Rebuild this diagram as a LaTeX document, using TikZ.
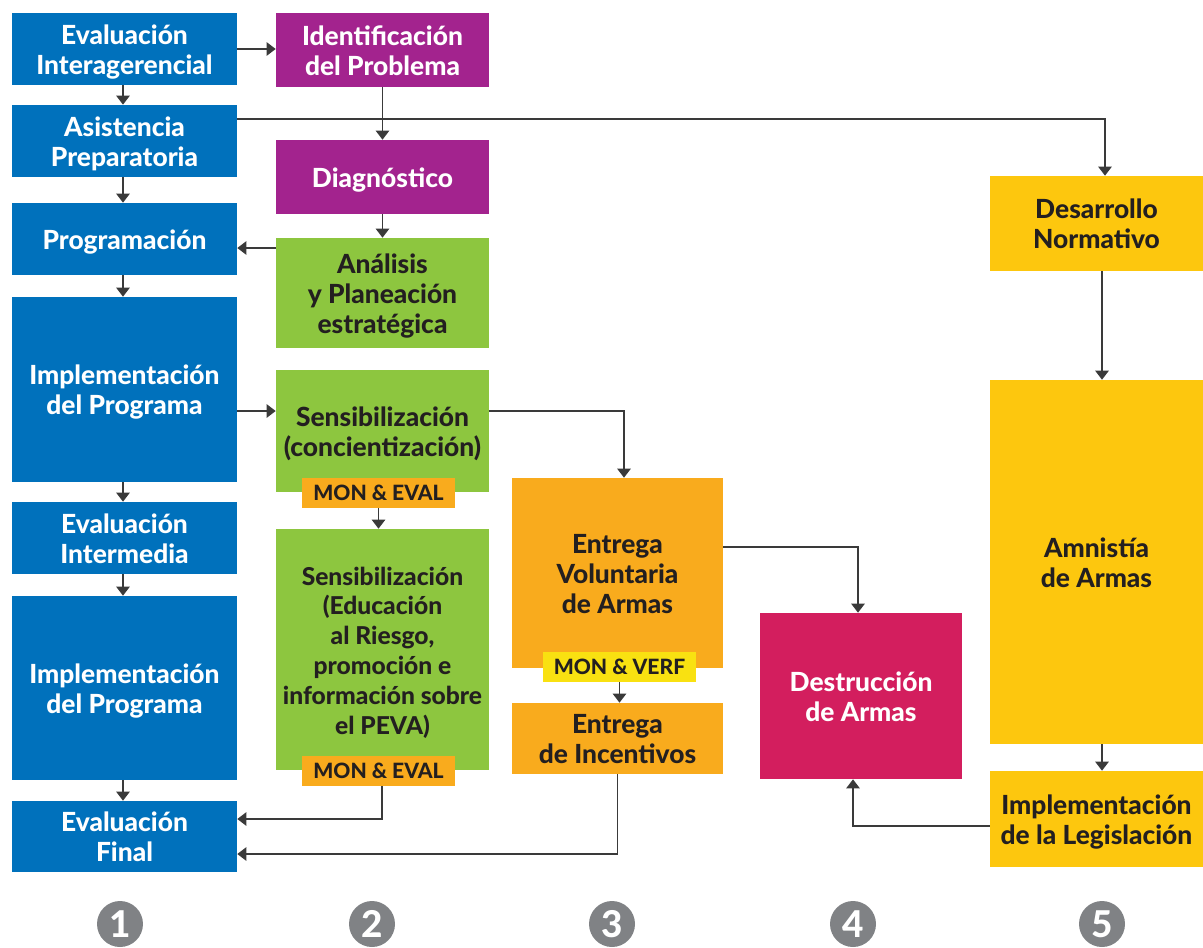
\documentclass[tikz,border=0pt]{standalone}
\usepackage{fontspec}
\setmainfont{Lato}[BoldFont={Lato Heavy}]
\usetikzlibrary{arrows.meta}

\definecolor{azul}{HTML}{0071BC}
\definecolor{morado}{HTML}{A3238E}
\definecolor{verde}{HTML}{8DC63F}
\definecolor{naranja}{HTML}{F9AB1D}
\definecolor{amarillo}{HTML}{FDC70E}
\definecolor{amarillotag}{HTML}{F9E111}
\definecolor{carmin}{HTML}{D31E5E}
\definecolor{gris}{HTML}{808285}
\definecolor{tinta}{HTML}{231F20}
\definecolor{linea}{HTML}{3A3A3A}

% texto de las cajas, un poco mas abajo
\newcommand\lineas[1]{\raisebox{-2.4pt}[\height][\depth]{\begin{tabular}{@{}c@{}}#1\end{tabular}}}

\tikzset{
 caja/.style={minimum height=1.44cm, inner sep=0pt,
  font=\bfseries\fontsize{15}{17}\selectfont},
 col1/.style={caja, fill=azul, text=white, minimum width=4.5cm},
 col2/.style={caja, minimum width=4.26cm},
 col3/.style={caja, fill=naranja, text=tinta, minimum width=4.22cm},
 col5/.style={caja, fill=amarillo, text=tinta, minimum width=4.26cm},
 etiqueta/.style={minimum width=3.06cm, minimum height=0.6cm, inner sep=0pt,
  text=tinta, font=\bfseries\fontsize{12}{14}\selectfont},
 numero/.style={circle, fill=gris, text=white, minimum size=0.92cm, inner sep=0pt,
  font=\bfseries\fontsize{21}{21}\selectfont},
 flecha/.style={draw=linea, line width=0.6pt, -{Triangle[width=0.27cm, length=0.18cm]}}
}

\begin{document}
\begin{tikzpicture}[x=0.02cm, y=-0.02cm]
 \useasboundingbox (0,0) rectangle (1203,947);

 \node[col1] (ei) at (124.5,49) {\lineas{Evaluación\\Interagerencial}};
 \node[col1] (ap) at (124.5,141) {\lineas{Asistencia\\Preparatoria}};
 \node[col1] (prog) at (124.5,239) {\lineas{Programación}};
 \node[col1, minimum height=3.7cm] (impA) at (124.5,389.5) {\lineas{Implementación\\del Programa}};
 \node[col1] (eint) at (124.5,538) {\lineas{Evaluación\\Intermedia}};
 \node[col1, minimum height=3.68cm] (impB) at (124.5,688) {\lineas{Implementación\\del Programa}};
 \node[col1, minimum height=1.42cm] (efin) at (124.5,836.5) {\lineas{Evaluación\\Final}};

 \node[col2, fill=morado, text=white, minimum height=1.48cm] (idp) at (382.5,50) {\lineas{Identificación\\del Problema}};
 \node[col2, fill=morado, text=white, minimum height=1.48cm] (diag) at (382.5,177) {\lineas{Diagnóstico}};
 \node[col2, fill=verde, text=tinta, minimum height=2.2cm] (anal) at (382.5,293) {\lineas{Análisis\\y Planeación\\estratégica}};
 \node[col2, fill=verde, text=tinta, minimum height=2.44cm] (sensA) at (382.5,431) {\lineas{Sensibilización\\(concientización)}};
 \node[etiqueta, fill=naranja] (monA) at (378.5,493) {MON \& EVAL};
 \node[col2, fill=verde, text=tinta, minimum height=4.82cm, font=\bfseries\fontsize{14}{17}\selectfont] (sensB) at (382.5,649.5)
  {\lineas{Sensibilización\\(Educación\\al Riesgo,\\promoción e\\información sobre\\el PEVA)}};
 \node[etiqueta, fill=naranja] (monB) at (378.5,771) {MON \& EVAL};

 \node[col3, minimum height=3.8cm] (evol) at (617.5,573) {\lineas{Entrega\\Voluntaria\\de Armas}};
 \node[etiqueta, fill=amarillotag] (monC) at (619.5,667) {MON \& VERF};
 \node[col3, minimum height=1.42cm] (einc) at (617.5,738.5) {\lineas{Entrega\\de Incentivos}};

 \node[caja, fill=carmin, text=white, minimum width=4.04cm, minimum height=3.32cm] (dest) at (861,696) {\lineas{Destrucción\\de Armas}};

 \node[col5, minimum height=1.9cm] (dnorm) at (1096.5,223.5) {\lineas{Desarrollo\\Normativo}};
 \node[col5, minimum height=7.28cm] (amn) at (1096.5,562) {\lineas{Amnistía\\de Armas}};
 \node[col5, minimum height=1.92cm] (ileg) at (1096.5,819) {\lineas{Implementación\\de la Legislación}};

 \foreach \n/\x in {1/120, 2/372, 3/612, 4/853, 5/1102}
  \node[numero] (num\n) at (\x,924) {\n};

 \draw[flecha] (ei.south -| 123,0) -- (ap.north -| 123,0);
 \draw[flecha] (ap.south -| 123,0) -- (prog.north -| 123,0);
 \draw[flecha] (prog.south -| 123,0) -- (impA.north -| 123,0);
 \draw[flecha] (impA.south -| 123,0) -- (eint.north -| 123,0);
 \draw[flecha] (eint.south -| 123,0) -- (impB.north -| 123,0);
 \draw[flecha] (impB.south -| 123,0) -- (efin.north -| 123,0);

 \draw[flecha] (ei.east) -- (ei.east -| idp.west);
 \draw[flecha] (idp.south) -- (diag.north);
 \draw[flecha] (diag.south) -- (anal.north);
 \draw[flecha] ([yshift=-0.18cm]prog.east -| anal.west) -- ([yshift=-0.18cm]prog.east);
 \coordinate (sA) at ([yshift=0.4cm]sensA.west);
 \draw[flecha] (sA -| impA.east) -- (sA);
 \draw[flecha] (sA -| sensA.east) -| ([xshift=0.13cm]evol.north);
 \draw[flecha] (monA.south) -- (monA.south |- sensB.north);
 \draw[flecha] ([yshift=0.44cm]ap.east) -| ([xshift=0.17cm]dnorm.north);
 \draw[flecha] ([yshift=0.52cm]evol.east) -| ([xshift=-0.06cm]dest.north);
 \draw[flecha] (monC.south) -- (monC.south |- einc.north);
 \draw[flecha] ([xshift=0.11cm]dnorm.south) -- ([xshift=0.11cm]amn.north);
 \draw[flecha] ([xshift=0.11cm]amn.south) -- ([xshift=0.11cm]ileg.north);
 \draw[flecha] ([yshift=-0.14cm]ileg.west) -| ([xshift=-0.16cm]dest.south);
 \draw[flecha] ([xshift=0.07cm]monB.south) |- ([yshift=0.35cm]efin.east);
 \draw[flecha] (einc.south) |- ([yshift=-0.35cm]efin.east);
\end{tikzpicture}
\end{document}
